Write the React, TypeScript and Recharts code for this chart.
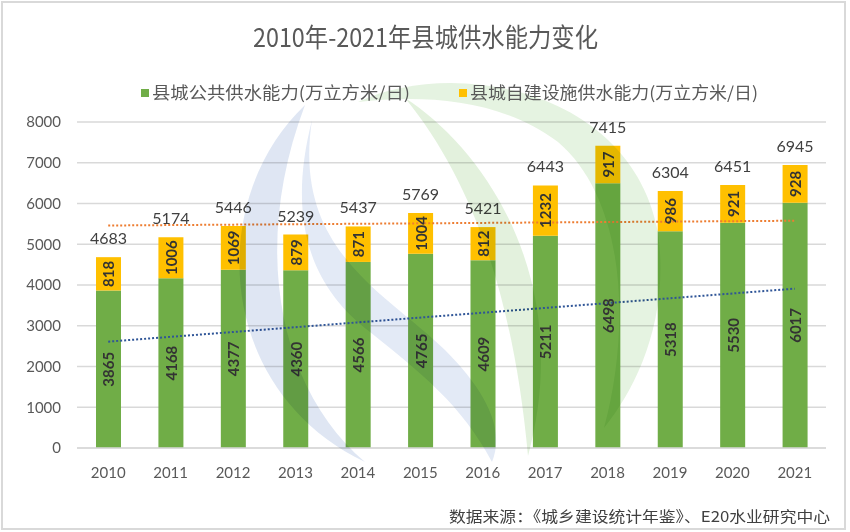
import React from 'react';
import { ComposedChart, Bar, Line, XAxis, YAxis, CartesianGrid, LabelList } from 'recharts';

// 县城供水能力 (万立方米/日)
const years = ['2010', '2011', '2012', '2013', '2014', '2015', '2016', '2017', '2018', '2019', '2020', '2021'];
const publicSupply = [3865, 4168, 4377, 4360, 4566, 4765, 4609, 5211, 6498, 5318, 5530, 6017];
const selfBuiltSupply = [818, 1006, 1069, 879, 871, 1004, 812, 1232, 917, 986, 921, 928];

// dotted trend lines, only the two end points are given
const blueTrend = [2610, null, null, null, null, null, null, null, null, null, null, 3910];
const orangeTrend = [5460, null, null, null, null, null, null, null, null, null, null, 5577];

const yTicks = [0, 1000, 2000, 3000, 4000, 5000, 6000, 7000, 8000];

const GREEN = '#70AD47';
const YELLOW = '#FFC000';
const FONT = 'Lato, "Noto Sans", sans-serif';
const CJK = '"Noto Sans CJK SC", sans-serif';

const chartData = years.map((year, i) => ({
  year,
  publicSupply: publicSupply[i],
  selfBuiltSupply: selfBuiltSupply[i],
  total: publicSupply[i] + selfBuiltSupply[i],
  blueTrend: blueTrend[i],
  orangeTrend: orangeTrend[i],
}));

const InsideLabel = (props: any) => {
  const { x, y, width, height, value } = props;
  const cx = x + width / 2;
  const cy = y + height / 2;
  return (
    <text
      x={cx}
      y={cy}
      transform={`rotate(-90 ${cx} ${cy})`}
      textAnchor="middle"
      dominantBaseline="central"
      fontFamily={FONT}
      fontSize={15}
      fontWeight="bold"
      fill="#333333"
    >
      {value}
    </text>
  );
};

const TotalLabel = (props: any) => {
  const { x, y, width, value } = props;
  return (
    <text x={x + width / 2} y={y - 13} textAnchor="middle" fontFamily={FONT} fontSize={16} fill="#404040">
      {value}
    </text>
  );
};

// faint logo behind the plot
const Watermark = () => (
  <svg
    width={850}
    height={532}
    style={{ position: 'absolute', left: 0, top: 0, pointerEvents: 'none', mixBlendMode: 'multiply', opacity: 0.55 }}
  >
    <path d="M 305 105 C 205 200, 215 390, 365 462 C 280 390, 250 250, 305 105 Z" fill="#c4d2ea" />
    <path
      d="M 312 120 C 292 250, 385 292, 445 350 C 487 392, 505 430, 492 462 C 462 405, 420 372, 370 332 C 312 288, 286 222, 312 120 Z"
      fill="#ccd8ee"
    />
    <path
      d="M 358 102 C 450 58, 630 86, 658 232 C 670 320, 636 388, 604 428 C 630 332, 628 202, 558 142 C 498 97, 420 95, 358 102 Z"
      fill="#d0e9c8"
    />
    <path d="M 405 98 C 486 150, 575 282, 528 456 C 514 302, 474 182, 405 98 Z" fill="#cbe6c1" />
  </svg>
);

const Texts = () => (
  <svg width={850} height={532} style={{ position: 'absolute', left: 0, top: 0, pointerEvents: 'none' }}>
    <text x={253} y={47} textLength={345} lengthAdjust="spacingAndGlyphs" fontFamily={CJK} fontSize={26} fill="#595959">
      2010年-2021年县城供水能力变化
    </text>
    <rect x={141} y={89} width={8} height={8} fill={GREEN} />
    <text x={152} y={99} textLength={258} lengthAdjust="spacingAndGlyphs" fontFamily={CJK} fontSize={17} fill="#595959">
      县城公共供水能力(万立方米/日)
    </text>
    <rect x={459} y={89} width={8} height={8} fill={YELLOW} />
    <text x={470} y={99} textLength={288} lengthAdjust="spacingAndGlyphs" fontFamily={CJK} fontSize={17} fill="#595959">
      县城自建设施供水能力(万立方米/日)
    </text>
    <text x={449} y={522} textLength={381} lengthAdjust="spacingAndGlyphs" fontFamily={CJK} fontSize={15} fill="#404040">
      数据来源：《城乡建设统计年鉴》、E20水业研究中心
    </text>
  </svg>
);

export default function App() {
  return (
    <div style={{ position: 'absolute', left: 0, top: 0, width: 850, height: 532, background: '#ffffff' }}>
      <div
        style={{
          position: 'absolute',
          left: 1,
          top: 1,
          width: 845,
          height: 529,
          boxSizing: 'border-box',
          border: '2px solid #d9d9d9',
        }}
      />
      <div style={{ position: 'absolute', left: 0, top: 0 }}>
        <ComposedChart width={850} height={532} data={chartData} margin={{ top: 122, right: 24, bottom: 54, left: 0 }}>
          <CartesianGrid vertical={false} stroke="#d9d9d9" strokeWidth={1.5} />
          <XAxis
            dataKey="year"
            height={30}
            axisLine={{ stroke: '#d9d9d9', strokeWidth: 1.5 }}
            tickLine={false}
            tickSize={0}
            tickMargin={19}
            tick={{ fontFamily: FONT, fontSize: 15, fill: '#595959' }}
          />
          <YAxis
            width={77}
            domain={[0, 8000]}
            ticks={yTicks}
            axisLine={false}
            tickLine={false}
            tickSize={0}
            tickMargin={16}
            tick={{ fontFamily: FONT, fontSize: 15, fill: '#595959' }}
          />
          <Bar dataKey="publicSupply" stackId="a" fill={GREEN} barSize={25} isAnimationActive={false}>
            <LabelList dataKey="publicSupply" content={InsideLabel} />
          </Bar>
          <Bar dataKey="selfBuiltSupply" stackId="a" fill={YELLOW} barSize={25} isAnimationActive={false}>
            <LabelList dataKey="selfBuiltSupply" content={InsideLabel} />
            <LabelList dataKey="total" content={TotalLabel} />
          </Bar>
          <Line
            type="linear"
            dataKey="blueTrend"
            connectNulls
            dot={false}
            activeDot={false}
            stroke="#2F5597"
            strokeWidth={2}
            strokeDasharray="2 2"
            isAnimationActive={false}
          />
          <Line
            type="linear"
            dataKey="orangeTrend"
            connectNulls
            dot={false}
            activeDot={false}
            stroke="#ED7D31"
            strokeWidth={2}
            strokeDasharray="2 2"
            isAnimationActive={false}
          />
        </ComposedChart>
      </div>
      <Watermark />
      <Texts />
    </div>
  );
}
